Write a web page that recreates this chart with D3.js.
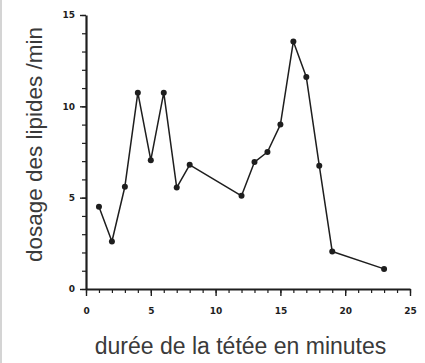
<!DOCTYPE html>
<html>
<head>
<meta charset="utf-8">
<script src="https://cdn.jsdelivr.net/npm/d3@7"></script>
<style>
  body { margin: 0; background: #fff; }
  svg { display: block; }
  .tick text { font-family: "DejaVu Sans", sans-serif; font-weight: bold; }
</style>
</head>
<body>
<div id="chart"></div>
<script>
// durée de la tétée (minutes) vs dosage des lipides / min
const minutes = [1, 2, 3, 4, 5, 6, 7, 8, 12, 13, 14, 15, 16, 17, 18, 19, 23];
const lipides = [4.5, 2.6, 5.6, 10.75, 7.05, 10.75, 5.55, 6.8, 5.1, 6.95, 7.5, 9.0, 13.55, 11.6, 6.75, 2.05, 1.1];
const xTicks = [0, 5, 10, 15, 20, 25];
const yTicks = [0, 5, 10, 15];
const xTitle = "durée de la tétée en minutes";
const yTitle = "dosage des lipides /min";

const width = 425, height = 363;
const margin = { top: 15, right: 15, bottom: 74, left: 86 };
const ink = "#1e1e1e";

const svg = d3.select("#chart").append("svg")
  .attr("width", width)
  .attr("height", height);

// faint scan edge on the left
svg.append("line")
  .attr("x1", 1).attr("x2", 1).attr("y1", 0).attr("y2", height)
  .attr("stroke", "#d4d4d4").attr("stroke-width", 2);

const x = d3.scaleLinear()
  .domain([0, 25])
  .range([margin.left, width - margin.right]);
const y = d3.scaleLinear()
  .domain([0, 15])
  .range([height - margin.bottom, margin.top]);

// minor ticks
svg.append("g")
  .attr("transform", `translate(0, ${y(0)})`)
  .call(d3.axisBottom(x).ticks(25).tickSize(4).tickFormat(""))
  .call(g => g.select(".domain").remove())
  .call(g => g.selectAll("line").attr("stroke", ink).attr("stroke-width", 1.2));
svg.append("g")
  .attr("transform", `translate(${x(0)}, 0)`)
  .call(d3.axisLeft(y).ticks(15).tickSize(4).tickFormat(""))
  .call(g => g.select(".domain").remove())
  .call(g => g.selectAll("line").attr("stroke", ink).attr("stroke-width", 1.2));

// major ticks + labels
svg.append("g")
  .attr("transform", `translate(0, ${y(0)})`)
  .call(d3.axisBottom(x).tickValues(xTicks).tickSize(7).tickPadding(12).tickSizeOuter(0))
  .call(g => g.select(".domain").attr("stroke", ink).attr("stroke-width", 2.2))
  .call(g => g.selectAll("line").attr("stroke", ink).attr("stroke-width", 1.4))
  .call(g => g.selectAll("text").attr("font-size", 9).attr("fill", ink));
svg.append("g")
  .attr("transform", `translate(${x(0)}, 0)`)
  .call(d3.axisLeft(y).tickValues(yTicks).tickSize(6).tickPadding(5).tickSizeOuter(0))
  .call(g => g.select(".domain").attr("stroke", ink).attr("stroke-width", 2.2))
  .call(g => g.selectAll("line").attr("stroke", ink).attr("stroke-width", 1.4))
  .call(g => g.selectAll("text").attr("font-size", 9).attr("fill", ink));

const points = minutes.map((m, i) => ({ m: m, v: lipides[i] }));

const line = d3.line()
  .x(d => x(d.m))
  .y(d => y(d.v));

svg.append("path")
  .datum(points)
  .attr("fill", "none")
  .attr("stroke", ink)
  .attr("stroke-width", 1.5)
  .attr("stroke-linejoin", "round")
  .attr("d", line);

svg.append("g")
  .selectAll("circle")
  .data(points)
  .join("circle")
    .attr("cx", d => x(d.m))
    .attr("cy", d => y(d.v))
    .attr("r", 3)
    .attr("fill", ink);

svg.append("text")
  .attr("x", 240.5)
  .attr("y", 354)
  .attr("text-anchor", "middle")
  .attr("font-family", "Liberation Sans, Arial, sans-serif")
  .attr("font-size", 23)
  .attr("fill", "#3a3a3a")
  .text(xTitle);

svg.append("text")
  .attr("transform", `translate(42, 144.5) rotate(-90)`)
  .attr("text-anchor", "middle")
  .attr("font-family", "Liberation Sans, Arial, sans-serif")
  .attr("font-size", 22.5)
  .attr("fill", "#3a3a3a")
  .text(yTitle);
</script>
</body>
</html>
